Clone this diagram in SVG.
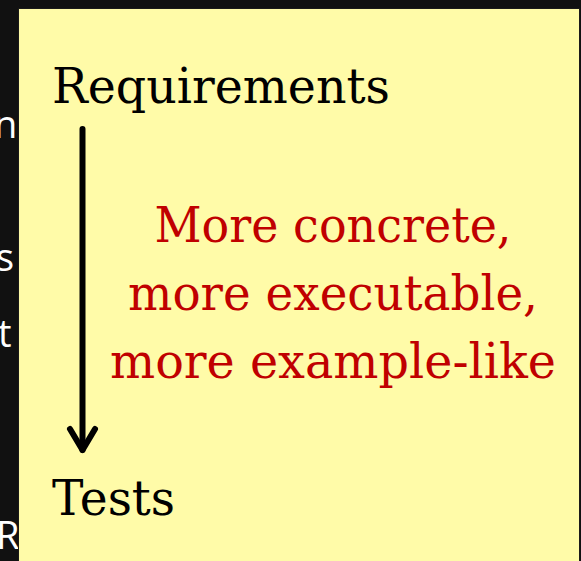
<svg xmlns="http://www.w3.org/2000/svg" width="581" height="561" viewBox="0 0 581 561">
  <style>
    .bg { fill: #111111; }
    .behind { font-family: "Open Sans", "DejaVu Sans", sans-serif; font-size: 38px; fill: #ffffff; }
    .panel { fill: #fffba8; stroke: #1a1a1a; stroke-width: 1; }
    .term { font-family: "DejaVu Serif", "Liberation Serif", serif; font-size: 48px; fill: #000000; }
    .note { font-family: "DejaVu Serif", "Liberation Serif", serif; font-size: 48px; fill: #c00000; text-anchor: middle; }
    .flow { fill: none; stroke: #000000; stroke-width: 6; stroke-linecap: round; stroke-linejoin: round; }
  </style>

  <!-- slide background with text partly hidden under the panel -->
  <rect class="bg" x="0" y="0" width="581" height="561" />
  <g id="background-text">
    <text class="behind" x="-6" y="138">n</text>
    <text class="behind" x="-4" y="271">s</text>
    <text class="behind" x="-2" y="347">t</text>
    <text class="behind" x="-4" y="549">R</text>
  </g>

  <!-- yellow callout panel -->
  <g id="panel">
    <rect class="panel" x="18.5" y="8.5" width="561" height="560" />
  </g>

  <g id="requirements">
    <text class="term" x="52" y="103" textLength="338" lengthAdjust="spacingAndGlyphs">Requirements</text>
  </g>
  <g id="tests">
    <text class="term" x="52" y="515" textLength="123" lengthAdjust="spacingAndGlyphs">Tests</text>
  </g>

  <!-- downward arrow from requirements to tests -->
  <g id="connectors">
    <path class="flow" d="M 82.5 129 L 82.5 450" />
    <path class="flow" d="M 70 429 L 82.5 450 L 95 429" />
  </g>

  <g id="note">
    <text class="note" x="333" y="242" textLength="357" lengthAdjust="spacingAndGlyphs">More concrete,</text>
    <text class="note" x="333" y="310" textLength="410" lengthAdjust="spacingAndGlyphs">more executable,</text>
    <text class="note" x="333" y="378" textLength="446" lengthAdjust="spacingAndGlyphs">more example-like</text>
  </g>
</svg>
